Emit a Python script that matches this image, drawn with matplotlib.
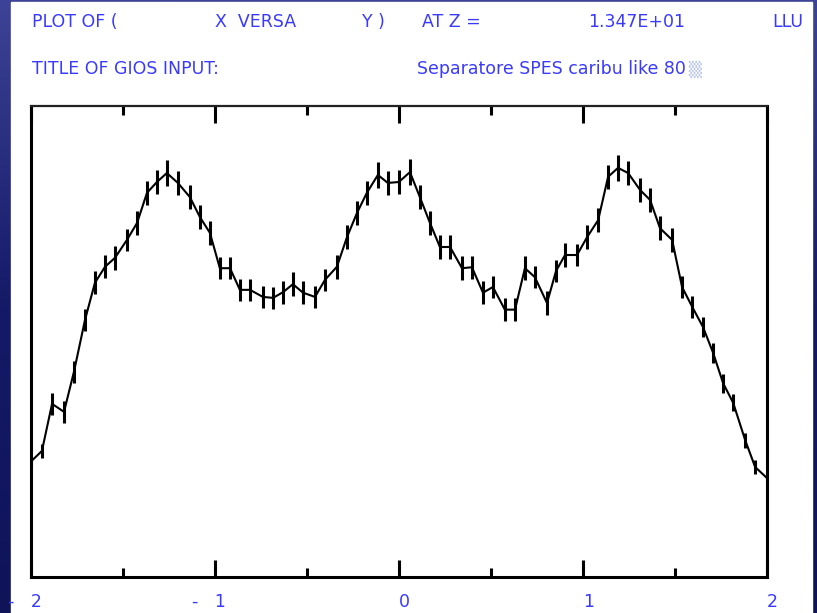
import numpy as np
import matplotlib
matplotlib.use("Agg")
import matplotlib.pyplot as plt
import matplotlib.transforms as mtransforms
from matplotlib.patches import Rectangle

# data (x versus y profile, arbitrary intensity units)
x_vals = [-2.0, -1.939, -1.884, -1.819, -1.765, -1.705, -1.651, -1.596, -1.542, -1.477,
          -1.422, -1.368, -1.314, -1.260, -1.200, -1.135, -1.081, -1.026, -0.972, -0.917,
          -0.863, -0.808, -0.738, -0.683, -0.629, -0.575, -0.520, -0.455, -0.401, -0.336,
          -0.281, -0.227, -0.173, -0.113, -0.059, 0.001, 0.061, 0.115, 0.170, 0.224,
          0.279, 0.344, 0.398, 0.458, 0.512, 0.577, 0.632, 0.686, 0.740, 0.806,
          0.855, 0.904, 0.969, 1.024, 1.084, 1.138, 1.192, 1.247, 1.312, 1.366,
          1.420, 1.486, 1.540, 1.595, 1.654, 1.709, 1.763, 1.818, 1.883, 1.937, 2.0]
y_vals = [24.4, 26.7, 36.7, 35.0, 43.5, 54.5, 62.4, 65.8, 67.7, 71.5,
          75.1, 81.5, 83.8, 85.7, 83.6, 80.6, 76.4, 73.0, 65.5, 65.5,
          60.9, 60.9, 59.4, 59.2, 60.4, 62.1, 60.3, 59.4, 63.0, 65.8,
          72.1, 77.2, 81.5, 85.3, 83.6, 83.8, 85.9, 80.6, 75.1, 70.0,
          70.0, 65.5, 65.7, 60.3, 61.5, 56.7, 56.7, 65.5, 63.6, 58.1,
          64.9, 68.3, 68.3, 72.1, 75.7, 84.9, 86.8, 85.7, 82.1, 80.0,
          74.0, 71.5, 61.5, 57.3, 53.0, 47.5, 41.1, 36.9, 29.0, 23.3, 21.0]
y_err = [1.3, 1.4, 2.4, 2.3, 2.3, 2.3, 2.4, 2.4, 2.5, 2.4,
         2.5, 2.5, 2.6, 2.7, 2.6, 2.5, 2.5, 2.5, 2.4, 2.4,
         2.4, 2.3, 2.4, 2.3, 2.4, 2.5, 2.4, 2.3, 2.4, 2.5,
         2.5, 2.5, 2.6, 2.7, 2.6, 2.6, 2.7, 2.6, 2.5, 2.5,
         2.5, 2.5, 2.4, 2.5, 2.4, 2.4, 2.4, 2.5, 2.4, 2.5,
         2.4, 2.5, 2.4, 2.5, 2.5, 2.6, 2.7, 2.6, 2.6, 2.5,
         2.5, 2.5, 2.4, 2.3, 2.2, 2.1, 2.0, 1.8, 1.6, 1.4, 1.3]

major_ticks = [-2, -1, 0, 1, 2]
major_labels = ["-   2", "-   1", "0", "1", "2"]
minor_ticks = [-1.5, -0.5, 0.5, 1.5]

header_color = "#3a3aff"
W, H = 817, 613

fig = plt.figure(figsize=(W / 100, H / 100), dpi=100)

# slide background (dark blue gradient) with the white panel on top
bg = fig.add_axes([0, 0, 1, 1], zorder=-2)
grad = np.linspace(0, 1, 256).reshape(-1, 1)
cmap = matplotlib.colors.LinearSegmentedColormap.from_list("slide", ["#3d4396", "#141a66", "#0f1459"])
bg.imshow(grad, aspect="auto", cmap=cmap, extent=[0, 1, 0, 1], origin="upper")
bg.add_patch(Rectangle((11 / W, 0), (812 - 11) / W, (H - 2) / H, color="white"))
bg.set_xlim(0, 1)
bg.set_ylim(0, 1)
bg.axis("off")

def ftext(px, py, s, **kw):
    fig.text(px / W, 1 - py / H, s, color=header_color, fontsize=12.5,
             family="DejaVu Sans", va="center", **kw)

ftext(32, 22, "PLOT OF (")
ftext(215, 22, "X  VERSA")
ftext(362, 22, "Y )")
ftext(422, 22, "AT Z =")
ftext(588, 22, "1.347E+01")
ftext(772, 22, "LLU")
ftext(32, 69, "TITLE OF GIOS INPUT:")
ftext(417, 69, "Separatore SPES caribu like 80")
fig.text(688 / W, 1 - 69 / H, "\u2592", color="#b8c4ee", fontsize=12,
         family="DejaVu Sans", va="center")

ax = fig.add_axes([30.7 / W, 1 - 576.7 / H, (766.7 - 30.7) / W, (576.7 - 105.7) / H])
ax.errorbar(x_vals, y_vals, yerr=y_err, color="black", lw=1.5,
            elinewidth=2.2, capsize=0, ecolor="black")
ax.set_xlim(-2, 2)
ax.set_ylim(0, 100)

for s in ax.spines.values():
    s.set_linewidth(2.2)
    s.set_color("black")
ax.spines["top"].set_linewidth(1.6)
ax.spines["top"].set_color("#222222")

ax.set_xticks(major_ticks)
ax.set_xticklabels(major_labels)
ax.set_xticks(minor_ticks, minor=True)
ax.set_yticks([])
ax.tick_params(axis="x", which="major", direction="in", length=12, width=2.2,
               top=True, pad=12, labelcolor=header_color, labelsize=12.5)
ax.tick_params(axis="x", which="minor", direction="in", length=6.5, width=2.2, top=True)
offset = mtransforms.ScaledTranslation(11 / 100, 0, fig.dpi_scale_trans)
for lab in ax.get_xticklabels():
    lab.set_horizontalalignment("right")
    lab.set_family("DejaVu Sans")
    lab.set_transform(lab.get_transform() + offset)

fig.savefig("out.png", dpi=100)
